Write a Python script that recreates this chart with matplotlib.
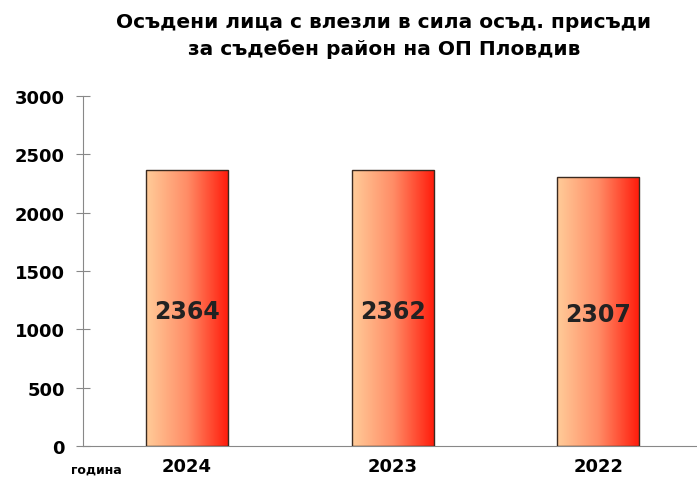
import numpy as np
import matplotlib
matplotlib.use("Agg")
import matplotlib.pyplot as plt
from matplotlib.colors import LinearSegmentedColormap

years = ["2024", "2023", "2022"]
values = [2364, 2362, 2307]
yticks = [0, 500, 1000, 1500, 2000, 2500, 3000]

plt.rcParams['font.family'] = ['DejaVu Sans']

fig = plt.figure(figsize=(6.97, 4.81), dpi=100)
ax = fig.add_axes([0.119, 0.0707, 0.881, 0.7277])

cmap = LinearSegmentedColormap.from_list("peach_red", ["#ffcc99", "#ff8c66", "#ff1a0a"])
grad = np.linspace(0, 1, 256).reshape(1, -1)

x = np.arange(len(years))
bars = ax.bar(x, values, width=0.40, color="none", edgecolor="#3a2a20", linewidth=1.0, zorder=3)
for b, v in zip(bars, values):
    x0, w = b.get_x(), b.get_width()
    im = ax.imshow(grad, cmap=cmap, aspect="auto", extent=[x0, x0 + w, 0, v], zorder=2)
    im.set_clip_path(b)
    ax.text(b.get_x() + w / 2, v * 0.49, str(v), ha="center", va="center",
            fontsize=17, fontweight="bold", color="#222222", zorder=4)

ax.set_xlim(-0.506, 2.48)
ax.set_ylim(0, 3000)
ax.set_yticks(yticks)
ax.set_yticklabels([str(t) for t in yticks], fontsize=13, fontweight="bold")
ax.set_xticks(x)
ax.set_xticklabels(years, fontsize=13, fontweight="bold")
ax.tick_params(axis="x", length=0, pad=8)
ax.tick_params(axis="y", direction="inout", length=10, color="#888888", pad=8)

for s in ["top", "right"]:
    ax.spines[s].set_visible(False)
ax.spines["left"].set_color("#888888")
ax.spines["bottom"].set_color("#888888")

fig.text(0.138, 0.022, "година", fontsize=9, fontweight="bold", ha="center", va="center")
fig.text(0.551, 0.925, "Осъдени лица с влезли в сила осъд. присъди\nза съдебен район на ОП Пловдив",
         ha="center", va="center", fontsize=14.5, fontweight="bold", linespacing=1.45)

fig.savefig("out.png", dpi=100)
